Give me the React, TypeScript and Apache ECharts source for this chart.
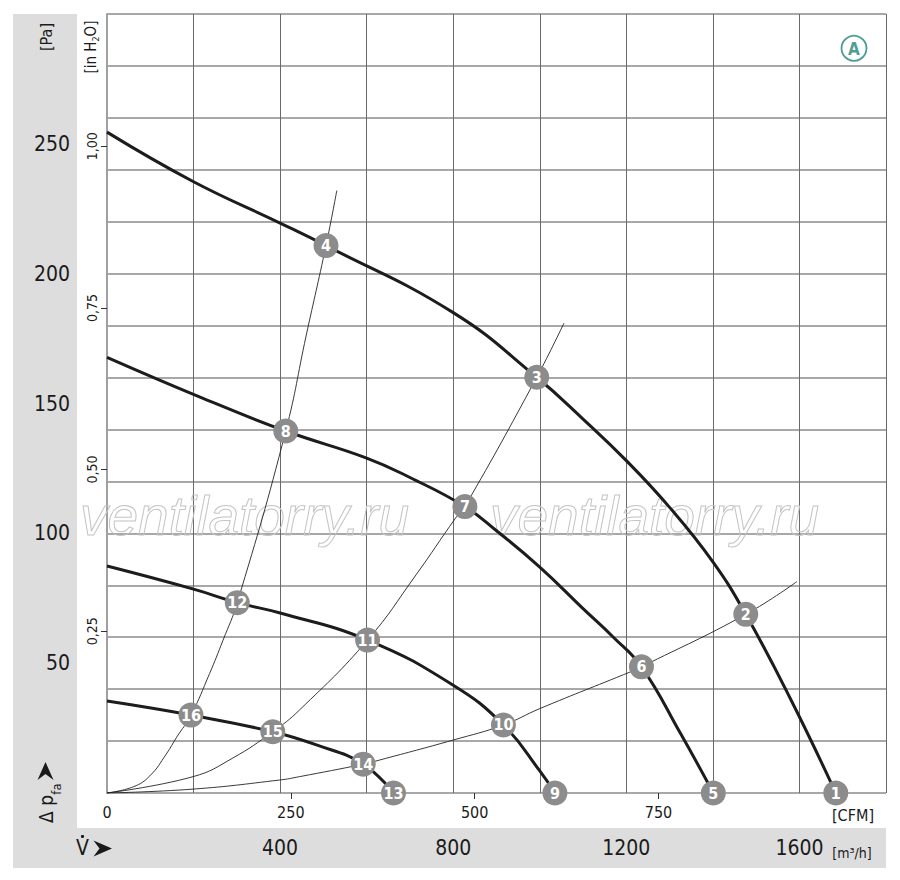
import React, { useEffect, useRef } from "react";
import * as echarts from "echarts";

// ---- data (flow in m³/h, pressure in Pa) ----
const curve1: number[][] = [[0, 254.5], [200, 235.4], [400, 219.5], [506, 210.8], [800, 185], [993, 160.1], [1100, 144], [1200, 128], [1300, 110], [1400, 89], [1476, 68.8], [1580, 36], [1684, 0]];
const curve2: number[][] = [[0, 167.8], [222, 152], [413, 139.4], [600, 129], [700, 121.5], [827, 110.3], [900, 101], [1000, 87], [1100, 71], [1170, 60], [1235, 48.6], [1325, 23], [1401, 0]];
const curve3: number[][] = [[0, 87.4], [200, 78.5], [301, 73.3], [400, 69.3], [602, 58.9], [800, 41.5], [916, 26.2], [1000, 8.5], [1035, 0]];
const curve4: number[][] = [[0, 35.4], [194, 30], [383, 23.6], [484, 18.5], [592, 11.1], [662, 0]];

const systemA: number[][] = [[0, 0], [61, 2.4], [99, 6.6], [137, 15], [161, 21.5], [194, 30], [237, 46], [268, 58.8], [301, 73.3], [413, 139.4], [460, 176], [506, 210.8], [531, 232]];
const systemB: number[][] = [[0, 0], [199, 6.3], [291, 13.5], [383, 23.6], [445, 32], [602, 58.9], [714, 84], [806, 106], [827, 110.3], [993, 160.1], [1056, 181]];
const systemC: number[][] = [[0, 0], [199, 1.5], [399, 5], [445, 6.3], [592, 11.1], [630, 12.7], [800, 20.4], [916, 26.2], [1000, 32.5], [1210, 46.7], [1235, 48.6], [1476, 68.8], [1594, 81.4]];

const markerFlow: number[] = [1684, 1476, 993, 506, 1401, 1235, 827, 413, 1035, 916, 602, 301, 662, 592, 383, 194];
const markerPressure: number[] = [0, 68.8, 160.1, 210.8, 0, 48.6, 110.3, 139.4, 0, 26.2, 58.9, 73.3, 0, 11.1, 23.6, 30];
const markerLabels: string[] = ["1", "2", "3", "4", "5", "6", "7", "8", "9", "10", "11", "12", "13", "14", "15", "16"];

const paTicks: number[] = [50, 100, 150, 200, 250];
const m3hTicks: number[] = [400, 800, 1200, 1600];
const cfmTicks: number[] = [0, 250, 500, 750];
const inH2OTicks: number[] = [0.25, 0.5, 0.75, 1.0];

const FLOW_MAX = 1800;
const PA_MAX = 300;
const CFM_PER_M3H = 1 / 1.699;
const INH2O_PER_PA = 1 / 249.089;

const NARROW = "'Liberation Sans Narrow', 'DejaVu Sans Condensed', 'Liberation Sans', Arial, sans-serif";
const REG = "'Liberation Sans', Arial, sans-serif";

export default function App() {
  const ref = useRef<HTMLDivElement>(null);
  useEffect(() => {
    if (!ref.current) return;
    const chart = echarts.init(ref.current, undefined, { renderer: "svg" });
    const mainLine = (data: number[][]) => ({
      type: "line", data, xAxisIndex: 0, yAxisIndex: 0, showSymbol: false, symbol: "none",
      smooth: 0.45, z: 3,
      lineStyle: { color: "#1c1c1c", width: 3 },
    });
    const sysLine = (data: number[][]) => ({
      type: "line", data, xAxisIndex: 0, yAxisIndex: 0, showSymbol: false, symbol: "none",
      smooth: 0.45, z: 2,
      lineStyle: { color: "#222", width: 0.9 },
    });
    const markers = markerFlow.map((q, i) => [q, markerPressure[i], markerLabels[i]]);

    const option: any = {
      animation: false,
      backgroundColor: "#ffffff",
      grid: { left: 107, top: 14, width: 779, height: 779, containLabel: false },
      xAxis: [
        {
          type: "value", min: 0, max: FLOW_MAX, interval: 200, position: "bottom",
          axisLine: { show: false }, axisTick: { show: false }, axisLabel: { show: false },
          splitLine: { show: true, lineStyle: { color: "#6a6a6a", width: 1 } },
        },
        {
          type: "value", min: 0, max: FLOW_MAX, interval: 400, position: "bottom",
          axisLine: { show: false }, axisTick: { show: false }, splitLine: { show: false },
          axisLabel: {
            show: true, customValues: m3hTicks, margin: 44, fontSize: 21, color: "#1a1a1a", fontFamily: NARROW,
            formatter: (v: number) => (m3hTicks.includes(v) ? String(v) : ""),
          },
        },
        {
          type: "value", min: 0, max: FLOW_MAX * CFM_PER_M3H, interval: 250, position: "bottom",
          axisLine: { show: false }, splitLine: { show: false },
          axisTick: { show: true, customValues: [250, 500, 750], length: 6, inside: false, lineStyle: { color: "#333", width: 1 } },
          axisLabel: {
            show: true, customValues: cfmTicks, margin: 11, fontSize: 16, color: "#1a1a1a", fontFamily: NARROW,
            formatter: (v: number) => (cfmTicks.includes(v) ? String(v) : ""),
          },
        },
      ],
      yAxis: [
        {
          type: "value", min: 0, max: PA_MAX, interval: 20, position: "left",
          axisLine: { show: true, lineStyle: { color: "#a0a0a0", width: 2 } },
          axisTick: { show: false }, axisLabel: { show: false },
          splitLine: { show: true, lineStyle: { color: "#a8a8a8", width: 2 } },
        },
        {
          type: "value", min: 0, max: PA_MAX, interval: 50, position: "left",
          axisLine: { show: false }, axisTick: { show: false }, splitLine: { show: false },
          axisLabel: {
            show: true, customValues: paTicks, margin: 37, fontSize: 21, color: "#1a1a1a", fontFamily: NARROW,
            formatter: (v: number) => (paTicks.includes(v) ? String(v) : ""),
          },
        },
        {
          type: "value", min: 0, max: PA_MAX * INH2O_PER_PA, interval: 0.25, position: "left",
          axisLine: { show: false }, splitLine: { show: false },
          axisTick: { show: true, customValues: inH2OTicks, length: 6, lineStyle: { color: "#333", width: 1 } },
          axisLabel: {
            show: true, customValues: inH2OTicks, rotate: 90, margin: 8, fontSize: 14, color: "#1a1a1a", fontFamily: NARROW,
            formatter: (v: number) => v.toFixed(2).replace(".", ","),
          },
        },
      ],
      series: [
        sysLine(systemA), sysLine(systemB), sysLine(systemC),
        mainLine(curve1), mainLine(curve2), mainLine(curve3), mainLine(curve4),
        {
          type: "scatter", data: markers, xAxisIndex: 0, yAxisIndex: 0, symbol: "circle", symbolSize: 25, clip: false, z: 5,
          itemStyle: { color: "#8c8c8c", opacity: 1 },
          label: {
            show: true, position: "inside", color: "#ffffff", fontWeight: "bold", fontSize: 16, fontFamily: NARROW,
            formatter: (p: any) => p.data[2],
          },
        },
      ],
      graphic: [
        { type: "rect", z: -10, shape: { x: 13, y: 14, width: 64, height: 854 }, style: { fill: "#dddddd" } },
        { type: "rect", z: -10, shape: { x: 13, y: 828, width: 873, height: 40 }, style: { fill: "#dddddd" } },
        { type: "text", z: 10, x: 46, y: 37, rotation: Math.PI / 2, style: { text: "[Pa]", fontSize: 16, fontFamily: NARROW, fill: "#1a1a1a", align: "center", verticalAlign: "middle" } },
        {
          type: "text", z: 10, x: 91, y: 47, rotation: Math.PI / 2,
          style: {
            text: "{n|[in H}{s|2}{n|O]}", fontFamily: NARROW, fill: "#1a1a1a", align: "center", verticalAlign: "middle",
            rich: {
              n: { fontSize: 15, lineHeight: 18, fontFamily: NARROW, fill: "#1a1a1a" },
              s: { fontSize: 9, lineHeight: 18, verticalAlign: "bottom", fontFamily: NARROW, fill: "#1a1a1a" },
            },
          },
        },
        { type: "text", z: 10, x: 46, y: 809, rotation: Math.PI / 2, style: { text: "Δ p", fontSize: 19, fontFamily: NARROW, fill: "#1a1a1a", align: "center", verticalAlign: "middle" } },
        { type: "text", z: 10, x: 56, y: 789, rotation: Math.PI / 2, style: { text: "fa", fontSize: 13, fontFamily: NARROW, fill: "#1a1a1a", align: "center", verticalAlign: "middle" } },
        { type: "polygon", z: 10, shape: { points: [[45.5, 762], [53.5, 780], [45.5, 774], [37.5, 780]] }, style: { fill: "#1a1a1a" } },
        { type: "text", z: 10, x: 82.5, y: 848, style: { text: "V", fontSize: 21, fontFamily: NARROW, fill: "#1a1a1a", align: "center", verticalAlign: "middle" } },
        { type: "circle", z: 10, shape: { cx: 82.5, cy: 836.5, r: 1.6 }, style: { fill: "#1a1a1a" } },
        { type: "polygon", z: 10, shape: { points: [[112, 848.5], [93.5, 840.5], [99.5, 848.5], [93.5, 856.5]] }, style: { fill: "#1a1a1a" } },
        { type: "text", z: 10, x: 853, y: 815, style: { text: "[CFM]", fontSize: 16, fontFamily: NARROW, fill: "#1a1a1a", align: "center", verticalAlign: "middle" } },
        { type: "text", z: 10, x: 852, y: 853, style: { text: "[m³/h]", fontSize: 14, fontFamily: NARROW, fill: "#1a1a1a", align: "center", verticalAlign: "middle" } },
        { type: "text", z: 1, x: 80, y: 516, style: { text: "ventilatorry.ru", fontSize: 55, fontStyle: "italic", fontFamily: REG, fill: "rgba(255,255,255,0)", stroke: "#c4c4c4", lineWidth: 1, align: "left", verticalAlign: "middle" } },
        { type: "text", z: 1, x: 490, y: 516, style: { text: "ventilatorry.ru", fontSize: 55, fontStyle: "italic", fontFamily: REG, fill: "rgba(255,255,255,0)", stroke: "#c4c4c4", lineWidth: 1, align: "left", verticalAlign: "middle" } },
        { type: "circle", z: 10, shape: { cx: 854, cy: 48.3, r: 12.5 }, style: { fill: "#ffffff", stroke: "#4f9e96", lineWidth: 1.8 } },
        { type: "text", z: 11, x: 854, y: 48.5, style: { text: "A", fontSize: 17, fontWeight: "bold", fontFamily: NARROW, fill: "#4f9e96", align: "center", verticalAlign: "middle" } },
      ],
    };
    chart.setOption(option);
    return () => chart.dispose();
  }, []);
  return <div ref={ref} style={{ position: "absolute", left: 0, top: 0, width: 900, height: 880 }} />;
}
